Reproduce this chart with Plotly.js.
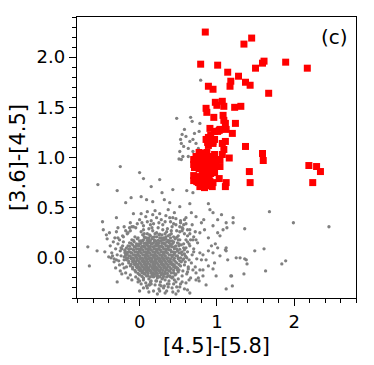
<!DOCTYPE html>
<html><head><meta charset="utf-8">
<script src="https://cdn.plot.ly/plotly-3.0.1.min.js"></script>
<style>html,body{margin:0;padding:0;background:#fff}#c{width:374px;height:365px}</style>
</head><body><div id="c"></div>
<script>
// Gray field sources: dense core
const grayCoreX = [
0.02,0.10,0.17,0.22,0.29,0.35,0.41,
-0.06,0.04,0.09,0.14,0.19,0.25,0.31,0.37,0.44,
-0.10,-0.03,0.02,0.07,0.12,0.16,0.21,0.26,0.30,0.34,0.39,0.46,0.52,
-0.13,-0.07,-0.01,0.04,0.08,0.11,0.15,0.19,0.23,0.27,0.31,0.35,0.40,0.44,0.49,
-0.15,-0.09,-0.04,0.01,0.05,0.09,0.12,0.16,0.20,0.24,0.28,0.32,0.36,0.41,0.47,0.54,
-0.17,-0.11,-0.06,-0.02,0.02,0.06,0.10,0.13,0.17,0.21,0.25,0.29,0.33,0.37,0.42,0.48,0.57,
-0.19,-0.13,-0.08,-0.04,0.00,0.04,0.08,0.11,0.15,0.18,0.22,0.26,0.30,0.34,0.38,0.43,0.49,0.55,
-0.16,-0.10,-0.06,-0.02,0.02,0.06,0.09,0.13,0.16,0.20,0.24,0.27,0.31,0.35,0.40,0.45,0.51,0.58,
-0.20,-0.14,-0.09,-0.05,-0.01,0.03,0.07,0.11,0.14,0.18,0.22,0.25,0.29,0.33,0.37,0.42,0.47,0.53,0.60,
-0.17,-0.11,-0.07,-0.03,0.01,0.05,0.09,0.12,0.16,0.20,0.23,0.27,0.31,0.35,0.39,0.44,0.50,0.56,
-0.14,-0.09,-0.04,0.00,0.04,0.08,0.11,0.15,0.19,0.22,0.26,0.30,0.34,0.38,0.43,0.48,0.54,
-0.12,-0.06,-0.01,0.03,0.07,0.10,0.14,0.18,0.21,0.25,0.29,0.33,0.37,0.42,0.47,0.53,
-0.09,-0.03,0.02,0.06,0.09,0.13,0.17,0.20,0.24,0.28,0.32,0.36,0.41,0.46,0.51,
-0.05,0.01,0.05,0.09,0.13,0.17,0.21,0.25,0.29,0.33,0.38,0.44,0.50,
0.00,0.06,0.11,0.16,0.20,0.24,0.28,0.33,0.39,0.46,
0.05,0.12,0.18,0.23,0.29,0.35,0.42];
const grayCoreY = [
0.26,0.24,0.27,0.25,0.23,0.26,0.24,
0.21,0.23,0.20,0.22,0.21,0.23,0.20,0.22,0.21,
0.18,0.19,0.17,0.20,0.18,0.19,0.17,0.20,0.18,0.19,0.17,0.19,0.18,
0.15,0.16,0.14,0.17,0.15,0.16,0.14,0.16,0.15,0.17,0.15,0.16,0.14,0.16,0.15,
0.12,0.13,0.12,0.14,0.12,0.13,0.11,0.14,0.12,0.13,0.12,0.14,0.12,0.13,0.12,0.13,
0.10,0.09,0.11,0.09,0.10,0.11,0.09,0.10,0.11,0.09,0.10,0.11,0.09,0.10,0.11,0.09,0.10,
0.07,0.06,0.08,0.06,0.07,0.08,0.06,0.07,0.08,0.06,0.07,0.08,0.06,0.07,0.08,0.06,0.07,0.06,
0.04,0.05,0.03,0.04,0.05,0.03,0.04,0.05,0.03,0.04,0.05,0.03,0.04,0.05,0.03,0.04,0.05,0.04,
0.01,0.02,0.00,0.01,0.02,0.00,0.01,0.02,0.00,0.01,0.02,0.00,0.01,0.02,0.00,0.01,0.02,0.00,0.01,
-0.02,-0.01,-0.03,-0.02,-0.01,-0.03,-0.02,-0.01,-0.03,-0.02,-0.01,-0.03,-0.02,-0.01,-0.03,-0.02,-0.01,-0.02,
-0.05,-0.04,-0.06,-0.05,-0.04,-0.06,-0.05,-0.04,-0.06,-0.05,-0.04,-0.06,-0.05,-0.04,-0.06,-0.05,-0.04,
-0.08,-0.07,-0.09,-0.08,-0.07,-0.09,-0.08,-0.07,-0.09,-0.08,-0.07,-0.09,-0.08,-0.07,-0.09,-0.08,
-0.11,-0.10,-0.12,-0.11,-0.10,-0.12,-0.11,-0.10,-0.12,-0.11,-0.10,-0.12,-0.11,-0.10,-0.12,
-0.14,-0.13,-0.15,-0.14,-0.13,-0.15,-0.14,-0.13,-0.15,-0.14,-0.13,-0.15,-0.14,
-0.17,-0.16,-0.18,-0.17,-0.16,-0.18,-0.17,-0.16,-0.18,-0.17,
-0.20,-0.21,-0.19,-0.20,-0.21,-0.19,-0.20];

// Gray field sources: dense core, second interleaved set
const grayCore2X = [
0.06,0.13,0.20,0.26,0.33,0.39,
-0.02,0.06,0.12,0.17,0.22,0.28,0.34,0.40,0.48,
-0.08,0.00,0.05,0.10,0.14,0.19,0.24,0.28,0.32,0.37,0.42,0.50,
-0.11,-0.04,0.02,0.06,0.10,0.13,0.17,0.21,0.25,0.29,0.33,0.38,0.43,0.51,
-0.13,-0.07,-0.01,0.03,0.07,0.11,0.14,0.18,0.22,0.26,0.30,0.34,0.39,0.45,0.51,
-0.14,-0.08,-0.04,0.00,0.04,0.08,0.12,0.15,0.19,0.23,0.27,0.31,0.35,0.40,0.45,0.52,
-0.16,-0.11,-0.06,-0.02,0.02,0.06,0.10,0.13,0.17,0.20,0.24,0.28,0.32,0.36,0.41,0.46,0.53,
-0.18,-0.12,-0.08,-0.04,0.00,0.04,0.08,0.11,0.15,0.18,0.22,0.26,0.29,0.33,0.38,0.43,0.49,0.55,
-0.15,-0.11,-0.07,-0.03,0.01,0.05,0.09,0.13,0.16,0.20,0.24,0.27,0.31,0.35,0.40,0.45,0.50,0.57,
-0.14,-0.09,-0.05,-0.01,0.03,0.07,0.10,0.14,0.18,0.21,0.25,0.29,0.33,0.37,0.41,0.46,0.52,
-0.11,-0.07,-0.02,0.02,0.06,0.09,0.13,0.17,0.20,0.24,0.28,0.32,0.36,0.40,0.45,0.51,
-0.09,-0.04,0.01,0.05,0.08,0.12,0.16,0.19,0.23,0.27,0.31,0.35,0.39,0.44,0.49,
-0.06,-0.01,0.04,0.08,0.11,0.15,0.19,0.22,0.26,0.30,0.34,0.39,0.44,0.49,
-0.02,0.03,0.07,0.11,0.15,0.19,0.23,0.27,0.31,0.36,0.41,0.47,
0.03,0.09,0.14,0.18,0.22,0.26,0.31,0.37,0.43];
const grayCore2Y = [
0.24,0.23,0.24,0.235,0.24,0.23,
0.20,0.21,0.20,0.205,0.21,0.20,0.21,0.20,0.205,
0.175,0.17,0.18,0.175,0.17,0.18,0.175,0.17,0.18,0.175,0.17,0.18,
0.145,0.14,0.15,0.145,0.14,0.15,0.145,0.14,0.15,0.145,0.14,0.15,0.145,0.14,
0.115,0.11,0.12,0.115,0.11,0.12,0.115,0.11,0.12,0.115,0.11,0.12,0.115,0.11,0.12,
0.085,0.08,0.09,0.085,0.08,0.09,0.085,0.08,0.09,0.085,0.08,0.09,0.085,0.08,0.09,0.085,
0.055,0.05,0.06,0.055,0.05,0.06,0.055,0.05,0.06,0.055,0.05,0.06,0.055,0.05,0.06,0.055,0.05,
0.025,0.02,0.03,0.025,0.02,0.03,0.025,0.02,0.03,0.025,0.02,0.03,0.025,0.02,0.03,0.025,0.02,0.03,
-0.005,0.00,-0.01,-0.005,0.00,-0.01,-0.005,0.00,-0.01,-0.005,0.00,-0.01,-0.005,0.00,-0.01,-0.005,0.00,-0.01,
-0.035,-0.03,-0.04,-0.035,-0.03,-0.04,-0.035,-0.03,-0.04,-0.035,-0.03,-0.04,-0.035,-0.03,-0.04,-0.035,-0.03,
-0.065,-0.06,-0.07,-0.065,-0.06,-0.07,-0.065,-0.06,-0.07,-0.065,-0.06,-0.07,-0.065,-0.06,-0.07,-0.065,
-0.095,-0.09,-0.10,-0.095,-0.09,-0.10,-0.095,-0.09,-0.10,-0.095,-0.09,-0.10,-0.095,-0.09,-0.10,
-0.125,-0.12,-0.13,-0.125,-0.12,-0.13,-0.125,-0.12,-0.13,-0.125,-0.12,-0.13,-0.125,-0.12,
-0.155,-0.15,-0.16,-0.155,-0.15,-0.16,-0.155,-0.15,-0.16,-0.155,-0.15,-0.16,
-0.185,-0.18,-0.19,-0.185,-0.18,-0.19,-0.185,-0.18,-0.19];

// Gray field sources: halo around the core
const grayHaloX = [
-0.05,0.05,0.12,0.18,0.24,0.30,0.36,0.42,0.48,0.55,0.62,0.00,0.08,0.15,0.22,0.28,0.34,0.40,0.47,0.53,0.60,-0.12,-0.20,0.10,0.20,0.26,0.37,0.45,-0.08,0.68,0.72,0.58,0.50,-0.15,-0.22,-0.26,-0.30,
-0.22,-0.25,-0.28,-0.24,-0.27,-0.22,-0.31,-0.34,-0.33,-0.20,-0.25,-0.18,-0.38,-0.36,-0.15,-0.21,
0.60,0.65,0.62,0.68,0.64,0.70,0.58,0.63,0.67,0.72,0.57,0.75,0.78,0.61,0.66,0.56,0.73,0.80,0.70,0.52,
0.00,0.08,0.15,0.20,0.27,0.32,0.38,0.44,0.50,0.55,0.10,0.25,0.35,0.42,0.52,-0.05,-0.10,0.60,0.30,0.40,0.58,0.18,
-0.28,-0.18,-0.10,0.03,0.14,0.25,0.33,0.44,0.52,0.57,0.65,-0.32,-0.24,-0.19,-0.26,-0.29,-0.23,-0.19,-0.31,-0.17,0.60,0.66,0.63,0.59,0.69,0.62,0.55,0.64,-0.02,0.05,0.13,0.22,0.28,0.36,0.47,0.53,0.12,0.31,0.05,0.23,0.43,0.50,0.17,0.39,0.02,-0.13,0.70,0.74,0.56,-0.40,-0.42,0.76,
-0.21,-0.16,-0.12,-0.08,0.05,0.10,0.16,0.30,0.41,0.47,0.55,0.62,-0.18,-0.23,-0.20,-0.17,0.58,0.61,0.64,0.59,0.62,0.05,0.09,0.15,0.21,0.26,0.33,0.38,0.45,0.48,-0.02,0.02,0.37,0.26,0.14,-0.12,-0.03,0.43,0.53,0.60];
const grayHaloY = [
0.30,0.32,0.29,0.34,0.30,0.33,0.29,0.31,0.27,0.30,0.28,0.38,0.41,0.37,0.40,0.38,0.42,0.36,0.39,0.35,0.40,0.35,0.31,0.46,0.47,0.44,0.48,0.45,0.44,0.33,0.26,0.24,0.22,0.25,0.22,0.18,0.26,
0.12,0.07,0.14,0.02,-0.03,-0.06,0.09,0.16,-0.01,-0.10,-0.13,-0.15,0.12,0.05,-0.20,0.16,
0.18,0.12,0.06,0.03,-0.02,0.09,-0.07,-0.11,-0.05,-0.09,0.14,0.15,0.05,-0.16,-0.20,-0.13,-0.15,-0.02,0.21,0.26,
-0.23,-0.25,-0.23,-0.27,-0.24,-0.28,-0.23,-0.26,-0.21,-0.24,-0.30,-0.31,-0.33,-0.30,-0.29,-0.19,-0.22,-0.25,-0.20,-0.19,-0.31,-0.33,
0.20,0.27,0.31,0.35,0.33,0.35,0.36,0.34,0.31,0.33,0.24,0.20,0.10,0.05,-0.07,0.03,-0.16,0.08,-0.10,0.00,0.10,0.18,-0.09,0.02,-0.12,0.22,-0.18,-0.22,-0.24,-0.21,-0.27,-0.23,-0.28,-0.26,-0.24,-0.26,-0.34,-0.30,-0.30,-0.36,-0.34,-0.33,0.43,0.40,0.44,0.30,0.06,-0.01,0.29,0.01,0.19,-0.20,
0.21,0.24,0.27,0.31,0.28,0.36,0.30,0.28,0.27,0.33,0.27,0.16,0.04,0.09,-0.02,-0.09,0.08,0.00,0.14,-0.04,-0.14,-0.22,-0.28,-0.26,-0.23,-0.27,-0.22,-0.26,-0.22,-0.29,-0.21,-0.26,-0.29,-0.33,-0.24,-0.17,0.34,0.40,0.37,0.34];

// Gray field sources: scattered outliers
const grayOuterX = [
0.79,0.48,0.66,0.58,0.55,0.60,0.53,0.54,0.57,0.65,0.69,0.73,0.63,0.52,0.56,0.51,0.54,0.69,0.76,0.77,0.71,0.68,0.78,0.63,
-0.25,0.00,-0.54,-0.29,0.05,0.15,0.26,0.43,0.61,0.69,-0.11,-0.18,0.02,0.09,0.17,0.29,0.32,0.39,0.52,0.65,0.89,0.91,1.68,1.99,2.45,1.21,1.36,1.01,1.12,1.21,
-0.48,-0.30,-0.67,-0.65,-0.55,-0.47,-0.43,-0.39,-0.28,-0.35,-0.37,-0.30,-0.33,-0.29,-0.45,
0.00,0.12,0.33,0.47,0.65,0.62,0.77,1.12,1.20,1.18,1.35,1.63,1.84,1.89,1.39,1.49,1.61,1.36,1.25,1.14,1.12,1.12,0.95,0.93,0.98,1.01,0.86,0.89,0.95,0.78,0.82,0.86,0.99,0.73,0.78,0.84,0.89,1.04,1.08,0.83,0.95,0.73,0.67,0.58,
0.80,0.95,1.06,1.13,1.01,1.11,0.89,0.97,0.82,0.73,1.19,1.30,1.38,1.04,0.82,0.69,0.65];
const grayOuterY = [
1.77,1.39,1.40,1.28,1.23,1.21,1.18,1.14,1.11,1.16,1.18,1.14,1.09,1.06,1.01,0.985,0.98,1.06,1.09,1.26,1.24,1.36,1.34,1.01,
0.91,0.85,0.73,0.67,0.79,0.71,0.78,0.68,0.67,0.65,0.60,0.55,0.61,0.58,0.56,0.65,0.58,0.55,0.51,0.54,0.54,0.48,0.46,0.35,0.31,0.40,0.29,0.38,0.35,0.35,
0.36,0.40,0.11,-0.08,0.07,0.28,0.23,0.25,0.30,0.02,0.00,-0.02,-0.04,-0.24,0.06,
-0.33,-0.27,-0.35,-0.36,-0.35,-0.32,-0.23,-0.31,-0.28,-0.18,-0.16,-0.13,-0.06,-0.03,-0.06,0.07,0.09,-0.01,0.00,-0.02,0.10,0.07,0.05,0.12,0.14,0.10,-0.02,-0.08,-0.11,-0.12,-0.18,-0.27,-0.18,0.18,0.25,0.28,0.20,0.22,0.28,0.38,0.32,0.41,0.45,0.38,
0.35,0.45,0.43,0.30,0.25,0.08,0.07,-0.05,-0.12,-0.22,-0.18,0.00,-0.02,0.02,0.03,0.18,0.28];

// Red sources
const redX = [0.85,1.45,1.35,0.79,1.01,1.61,1.59,1.89,2.17,1.50,1.14,1.28,1.18,1.17,1.37,1.43,1.67,0.89,0.95,0.86,0.87,0.98,1.00,1.07,1.09,1.23,1.31,0.96,1.08,1.09,1.11,1.24,0.91,1.01,1.04,1.12,1.20,0.86,0.92,0.97,0.95,1.07,1.11,0.89,1.37,1.09,1.59,1.60,1.42,1.43,2.19,2.29,2.34,2.24,1.16,1.07,1.04,1.04,1.03,1.12,1.11,
0.77,0.82,0.87,0.73,0.79,0.85,0.91,0.70,0.74,0.80,0.86,0.93,0.98,0.70,0.73,0.79,0.84,0.90,0.96,0.99,0.71,0.77,0.83,0.89,0.95,0.70,0.76,0.81,0.86,0.92,0.97,0.70,0.74,0.80,0.86,0.91,0.83,0.89,0.94,0.78,0.84,0.76,0.95,0.71,0.90,0.94,0.97,
0.89,0.95,0.88,0.97,1.03];
const redY = [2.25,2.19,2.13,1.93,1.92,1.96,1.94,1.95,1.89,1.89,1.85,1.81,1.76,1.71,1.75,1.72,1.64,1.71,1.68,1.49,1.45,1.55,1.52,1.56,1.51,1.50,1.51,1.40,1.42,1.37,1.34,1.34,1.29,1.26,1.28,1.28,1.24,1.18,1.22,1.18,1.14,1.14,1.16,1.12,1.11,1.08,1.04,0.97,0.86,0.75,0.92,0.91,0.86,0.75,0.995,1.03,0.98,0.91,0.79,0.75,0.71,
1.05,1.04,1.05,1.01,1.00,1.00,1.01,0.98,0.96,0.96,0.97,0.97,0.98,0.93,0.93,0.92,0.93,0.93,0.94,0.91,0.90,0.89,0.89,0.88,0.90,0.82,0.81,0.83,0.82,0.84,0.85,0.77,0.76,0.77,0.78,0.76,0.73,0.72,0.71,0.71,0.70,0.75,0.75,0.80,0.80,1.01,1.03,
1.20,1.16,1.15,1.26,1.27];

const xTitle = '[4.5]-[5.8]';
const yTitle = '[3.6]-[4.5]';
const panelLabel = '(c)';

const FONT = 'DejaVu Sans, sans-serif';
const grayX = grayCoreX.concat(grayCore2X, grayHaloX, grayOuterX);
const grayY = grayCoreY.concat(grayCore2Y, grayHaloY, grayOuterY);

const traces = [
  {x: grayX, y: grayY, type: 'scatter', mode: 'markers',
   marker: {color: '#808080', size: 3.3, line: {width: 0}}, hoverinfo: 'skip'},
  {x: redX, y: redY, type: 'scatter', mode: 'markers',
   marker: {color: '#ff0000', size: 7, symbol: 'square', line: {width: 0}}, hoverinfo: 'skip'}
];

const axisCommon = {
  showgrid: false, zeroline: false, showline: true, mirror: true,
  linecolor: '#000', linewidth: 1.2, ticks: 'outside', tickcolor: '#000',
  tickwidth: 1.2, ticklen: 7, tickfont: {family: FONT, size: 18, color: '#000'}
};

const layout = {
  width: 374, height: 365,
  margin: {l: 77, r: 18, t: 17, b: 67},
  paper_bgcolor: '#fff', plot_bgcolor: '#fff',
  showlegend: false,
  font: {family: FONT, color: '#000'},
  xaxis: Object.assign({}, axisCommon, {
    range: [-0.81, 2.8], tick0: 0, dtick: 1,
    minor: {dtick: 0.2, tick0: 0, ticks: 'outside', ticklen: 4, tickwidth: 1, tickcolor: '#000', showgrid: false},
    title: {text: xTitle, font: {family: FONT, size: 21, color: '#000'}, standoff: 7}
  }),
  yaxis: Object.assign({}, axisCommon, {
    range: [-0.4, 2.4], tick0: 0, dtick: 0.5, tickformat: '.1f',
    minor: {dtick: 0.1, tick0: 0, ticks: 'outside', ticklen: 4, tickwidth: 1, tickcolor: '#000', showgrid: false},
    title: {text: yTitle, font: {family: FONT, size: 21, color: '#000'}, standoff: 5}
  }),
  annotations: [{text: panelLabel, xref: 'paper', yref: 'paper', x: 0.98, y: 0.93,
    xanchor: 'right', yanchor: 'middle', showarrow: false,
    font: {family: FONT, size: 20, color: '#000'}}]
};

Plotly.newPlot('c', traces, layout, {staticPlot: true, displayModeBar: false});
</script></body></html>
